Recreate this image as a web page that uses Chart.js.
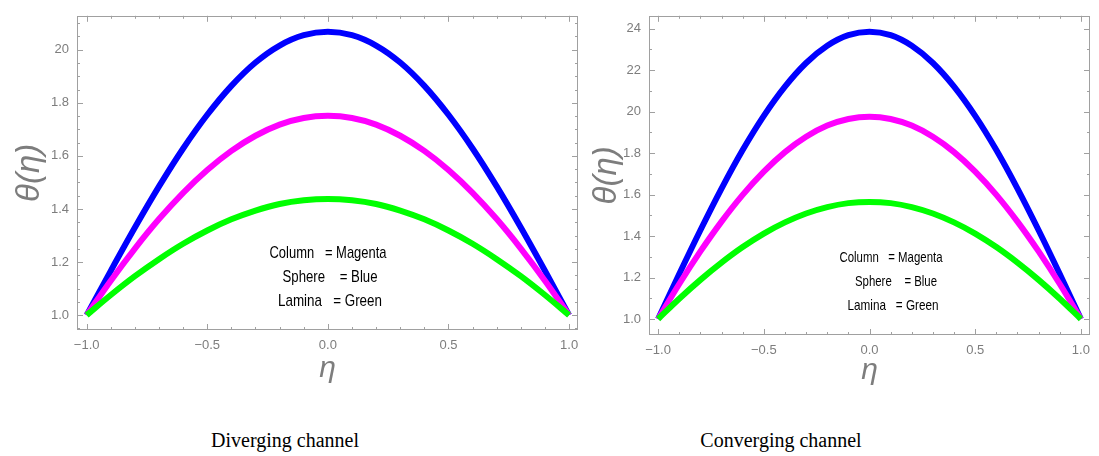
<!DOCTYPE html>
<html>
<head>
<meta charset="utf-8">
<script src="https://cdn.jsdelivr.net/npm/chart.js@4.4.1/dist/chart.umd.min.js"></script>
<style>
  body { margin: 0; background: #fff; width: 1099px; height: 456px; position: relative; overflow: hidden; }
  canvas { position: absolute; top: 0; }
  #c1 { left: 0; }
  #c2 { left: 590px; }
  .cap { position: absolute; top: 429px; font: 20px "Liberation Serif", "Times New Roman", serif; color: #000; transform: translateX(-50%); white-space: nowrap; }
</style>
</head>
<body>
<canvas id="c1" width="590" height="400"></canvas>
<canvas id="c2" width="509" height="400"></canvas>
<div class="cap" style="left:285px">Diverging channel</div>
<div class="cap" style="left:781px">Converging channel</div>
<script>
// eta grid
const eta = [-1, -0.9, -0.8, -0.7, -0.6, -0.5, -0.4, -0.3, -0.2, -0.1, 0, 0.1, 0.2, 0.3, 0.4, 0.5, 0.6, 0.7, 0.8, 0.9, 1];

// diverging channel
const divSphere = [1.000, 1.167, 1.330, 1.485, 1.628, 1.755, 1.864, 1.952, 2.016, 2.055, 2.068, 2.055, 2.016, 1.952, 1.864, 1.755, 1.628, 1.485, 1.330, 1.167, 1.000];
const divColumn = [1.000, 1.130, 1.251, 1.362, 1.461, 1.547, 1.619, 1.676, 1.718, 1.743, 1.751, 1.743, 1.718, 1.676, 1.619, 1.547, 1.461, 1.362, 1.251, 1.130, 1.000];
const divLamina = [1.000, 1.076, 1.147, 1.211, 1.269, 1.319, 1.361, 1.394, 1.419, 1.433, 1.438, 1.433, 1.419, 1.394, 1.361, 1.319, 1.269, 1.211, 1.147, 1.076, 1.000];

// converging channel
const conSphere = [1.000, 1.217, 1.428, 1.629, 1.815, 1.980, 2.121, 2.235, 2.318, 2.369, 2.386, 2.369, 2.318, 2.235, 2.121, 1.980, 1.815, 1.629, 1.428, 1.217, 1.000];
const conColumn = [1.000, 1.169, 1.326, 1.470, 1.599, 1.711, 1.805, 1.879, 1.933, 1.965, 1.976, 1.965, 1.933, 1.879, 1.805, 1.711, 1.599, 1.470, 1.326, 1.169, 1.000];
const conLamina = [1.000, 1.098, 1.189, 1.272, 1.347, 1.412, 1.466, 1.509, 1.540, 1.559, 1.565, 1.559, 1.540, 1.509, 1.466, 1.412, 1.347, 1.272, 1.189, 1.098, 1.000];

// tick labels
const xTickVals = [-1, -0.5, 0, 0.5, 1];
const xTickLabels = ["\u22121.0", "\u22120.5", "0.0", "0.5", "1.0"];
const divYTickVals = [1.0, 1.2, 1.4, 1.6, 1.8, 2.0];
const divYTickLabels = ["1.0", "1.2", "1.4", "1.6", "1.8", "20"];
const conYTickVals = [1.0, 1.2, 1.4, 1.6, 1.8, 2.0, 2.2, 2.4];
const conYTickLabels = ["1.0", "1.2", "1.4", "1.6", "1.8", "20", "22", "24"];

const legendLines = ["Column   = Magenta", "Sphere    = Blue", "Lamina   = Green"];

const GRAY = '#7d7d7d';

// frame with inward ticks on all four sides, plus the text note
const framePlugin = {
  id: 'frame',
  beforeDatasetsDraw(chart, args, o) {
    const { ctx, chartArea: a, scales: { x, y } } = chart;
    ctx.save();
    ctx.strokeStyle = '#a0a0a0';
    ctx.lineWidth = 1;
    ctx.strokeRect(Math.round(a.left) + 0.5, Math.round(a.top) + 0.5, Math.round(a.right - a.left) - 1, Math.round(a.bottom - a.top) - 1);
    ctx.beginPath();
    for (let i = -10; i <= 10; i++) {
      const v = i / 10;
      const len = (i % 5 === 0) ? 6 : 3;
      const px = Math.round(x.getPixelForValue(v)) + 0.5;
      ctx.moveTo(px, a.bottom); ctx.lineTo(px, a.bottom - len);
      ctx.moveTo(px, a.top); ctx.lineTo(px, a.top + len);
    }
    const n0 = Math.ceil(y.min / o.yMinor - 1e-6), n1 = Math.floor(y.max / o.yMinor + 1e-6);
    for (let i = n0; i <= n1; i++) {
      const v = i * o.yMinor;
      const major = Math.abs(v / 0.2 - Math.round(v / 0.2)) < 1e-6;
      const len = major ? 6 : 3;
      const py = Math.round(y.getPixelForValue(v)) + 0.5;
      ctx.moveTo(a.left, py); ctx.lineTo(a.left + len, py);
      ctx.moveTo(a.right, py); ctx.lineTo(a.right - len, py);
    }
    ctx.stroke();
    ctx.restore();
  },
  afterDatasetsDraw(chart, args, o) {
    const { ctx } = chart;
    ctx.save();
    ctx.fillStyle = '#000';
    ctx.textAlign = 'center';
    ctx.textBaseline = 'middle';
    ctx.font = o.noteFont;
    o.notes.forEach((n, i) => ctx.fillText(legendLines[i], n.x, n.y, n.w));
    ctx.restore();
  }
};

function series(vals) {
  return vals.map((v, i) => ({ x: eta[i], y: v }));
}

function makeChart(id, sphere, column, lamina, yVals, yLabels, cfg) {
  return new Chart(document.getElementById(id), {
    type: 'line',
    data: {
      datasets: [
        { data: series(lamina), borderColor: '#00ff00' },
        { data: series(column), borderColor: '#ff00ff' },
        { data: series(sphere), borderColor: '#0000ff' }
      ]
    },
    options: {
      responsive: false,
      animation: false,
      layout: { padding: cfg.padding },
      elements: {
        point: { radius: 0 },
        line: { borderWidth: 6, cubicInterpolationMode: 'monotone', borderCapStyle: 'butt', fill: false }
      },
      plugins: {
        legend: { display: false },
        tooltip: { enabled: false },
        frame: { yMinor: cfg.yMinor, notes: cfg.notes, noteFont: cfg.noteFont }
      },
      scales: {
        x: {
          type: 'linear',
          min: cfg.xMin, max: cfg.xMax,
          grid: { display: false, drawTicks: false },
          border: { display: false },
          afterFit: s => { s.height = cfg.xAxisH; },
          afterBuildTicks: s => { s.ticks = xTickVals.map(v => ({ value: v })); },
          ticks: {
            autoSkip: false, maxRotation: 0, padding: 8, color: GRAY,
            font: { family: 'Liberation Sans', size: 13 },
            callback: v => xTickLabels[xTickVals.indexOf(v)]
          },
          title: {
            display: true, text: '\u03b7', color: GRAY,
            font: { family: 'Liberation Sans', size: 30, style: 'italic' },
            padding: { top: 0, bottom: cfg.xTitlePad }
          }
        },
        y: {
          type: 'linear',
          min: cfg.yMin, max: cfg.yMax,
          grid: { display: false, drawTicks: false },
          border: { display: false },
          afterFit: s => { s.width = cfg.yAxisW; },
          afterBuildTicks: s => { s.ticks = yVals.map(v => ({ value: v })); },
          ticks: {
            autoSkip: false, padding: 8, color: GRAY,
            font: { family: 'Liberation Sans', size: 13 },
            callback: v => yLabels[yVals.indexOf(v)]
          },
          title: {
            display: true, text: '\u03b8(\u03b7)', color: GRAY,
            font: { family: 'Liberation Sans', size: 33, style: 'italic', lineHeight: 1 },
            padding: { top: cfg.yTitlePad, bottom: 0 }
          }
        }
      }
    },
    plugins: [framePlugin]
  });
}

makeChart('c1', divSphere, divColumn, divLamina, divYTickVals, divYTickLabels, {
  padding: { top: 15, right: 12, left: 0, bottom: 0 },
  xMin: -1.04, xMax: 1.037, yMin: 0.944, yMax: 2.128,
  xAxisH: 70, yAxisW: 77, xTitlePad: 13, yTitlePad: 13, yMinor: 0.05,
  noteFont: '17px "Liberation Sans Narrow", "Liberation Sans", sans-serif',
  notes: [{ x: 328, y: 253, w: 117 }, { x: 330, y: 277, w: 95 }, { x: 330, y: 301, w: 104 }]
});

makeChart('c2', conSphere, conColumn, conLamina, conYTickVals, conYTickLabels, {
  padding: { top: 15, right: 9, left: 0, bottom: 0 },
  xMin: -1.043, xMax: 1.043, yMin: 0.923, yMax: 2.4625,
  xAxisH: 65, yAxisW: 59, xTitlePad: 11, yTitlePad: 0, yMinor: 0.1,
  noteFont: '15px "Liberation Sans Narrow", "Liberation Sans", sans-serif',
  notes: [{ x: 301, y: 258, w: 103 }, { x: 306, y: 282, w: 82 }, { x: 303, y: 306, w: 91 }]
});
</script>
</body>
</html>
